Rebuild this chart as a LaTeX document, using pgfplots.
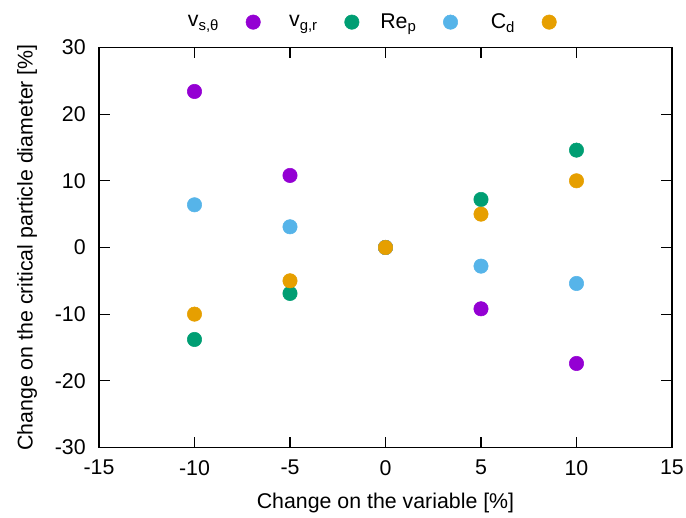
\documentclass[border=0pt]{standalone}
\usepackage{pgfplots}
\pgfplotsset{compat=1.18}
\usepackage{fontspec}
\setmainfont{Liberation Sans}
\definecolor{gpPurple}{HTML}{9400D3}
\definecolor{gpGreen}{HTML}{009E73}
\definecolor{gpBlue}{HTML}{56B4E9}
\definecolor{gpOrange}{HTML}{E69F00}
\newcommand{\lent}[1]{\makebox[30pt][r]{#1}}
\begin{document}
\begin{tikzpicture}[font=\fontsize{16}{19}\selectfont]
\begin{axis}[
  name=ax,
  scale only axis,
  width=429.75pt, height=300pt,
  xmin=-15, xmax=15, ymin=-30, ymax=30,
  xtick={-15,-10,...,15}, ytick={-30,-20,...,30},
  minor tick num=0,
  tick align=inside,
  major tick length=8pt,
  axis line style={line width=0.8pt},
  every tick/.style={black, line width=0.8pt},
  /pgf/number format/assume math mode=true,
  yticklabel style={xshift=-6.5pt},
  xticklabel style={yshift=-6pt},
  xlabel={Change on the variable [\%]},
  ylabel={Change on the critical particle diameter [\%]},
  every axis x label/.style={at={(axis description cs:0.5,0)}, anchor=center, yshift=-42pt},
  every axis y label/.style={at={(axis description cs:0,0.5)}, xshift=-54pt, rotate=90, anchor=center},
  legend columns=4,
  legend plot pos=right,
  legend image code/.code={\path[draw=none,fill=none] (0pt,0pt) -- (44pt,0pt); \draw[#1] plot coordinates {(25.5pt,0pt)};},
  legend style={draw=none, fill=none, inner sep=0pt, nodes={inner sep=0pt},
    at={(axis description cs:0.1395,1)}, anchor=west, yshift=19pt,
    /tikz/column sep=0pt},
]
\addplot[only marks, mark=*, mark size=5.4pt, color=gpPurple] coordinates {
  (-10,23.4) (-5,10.8) (0,0) (5,-9.2) (10,-17.4)};
\addlegendentry{\lent{v\textsubscript{s,θ}}}
\addplot[only marks, mark=*, mark size=5.4pt, color=gpGreen] coordinates {
  (-10,-13.8) (-5,-6.9) (0,0) (5,7.2) (10,14.6)};
\addlegendentry{\lent{v\textsubscript{g,r}}}
\addplot[only marks, mark=*, mark size=5.4pt, color=gpBlue] coordinates {
  (-10,6.4) (-5,3.1) (0,0) (5,-2.8) (10,-5.4)};
\addlegendentry{\lent{Re\textsubscript{p}}}
\addplot[only marks, mark=*, mark size=5.4pt, color=gpOrange] coordinates {
  (-10,-10) (-5,-5) (0,0) (5,5) (10,10)};
\addlegendentry{\lent{C\textsubscript{d}}}
\end{axis}
\pgfresetboundingbox
\path[use as bounding box] (ax.south west) ++(-74.25pt,-52.9pt) rectangle ([shift={(10.5pt,35.6pt)}]ax.north east);
\end{tikzpicture}
\end{document}
